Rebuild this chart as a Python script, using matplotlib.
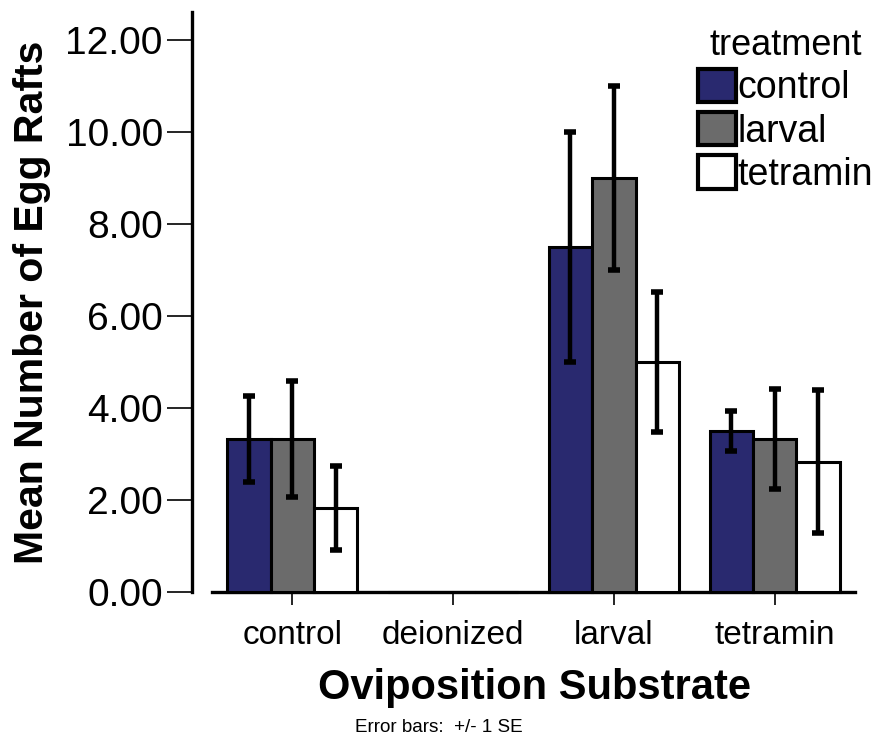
import matplotlib
matplotlib.use("Agg")
import matplotlib.pyplot as plt
import numpy as np

plt.rcParams['font.family'] = ['Liberation Sans', 'DejaVu Sans']

substrates = ["control", "deionized", "larval", "tetramin"]
treatments = ["control", "larval", "tetramin"]

# mean egg rafts per substrate, one list per treatment
means = {
    "control":  [3.33, 0.0, 7.50, 3.50],
    "larval":   [3.33, 0.0, 9.00, 3.33],
    "tetramin": [1.83, 0.0, 5.00, 2.83],
}
# +/- 1 standard error
errors = {
    "control":  [0.93, 0.0, 2.50, 0.43],
    "larval":   [1.26, 0.0, 2.00, 1.09],
    "tetramin": [0.91, 0.0, 1.52, 1.55],
}
colors = {"control": "#29296f", "larval": "#6b6b6b", "tetramin": "#ffffff"}

yticks = [0, 2, 4, 6, 8, 10, 12]

W, H = 877, 743
fig = plt.figure(figsize=(W / 100, H / 100), dpi=100)
ax = fig.add_axes([212 / W, 1 - 592 / H, (855 - 212) / W, (592 - 12) / H])

x = np.arange(len(substrates))
width = 0.27
for i, t in enumerate(treatments):
    pos = x + (i - 1) * width
    ax.bar(pos, means[t], width, color=colors[t], edgecolor="black",
           linewidth=2.2, label=t, zorder=3, clip_on=False)
    m = np.array(means[t])
    e = np.array(errors[t])
    keep = e > 0
    ax.errorbar(pos[keep], m[keep], yerr=e[keep], fmt="none", ecolor="black",
                elinewidth=3.2, capsize=4.5, capthick=4.0, zorder=4)

ax.set_xlim(-0.5, 3.5)
ax.set_ylim(0, 12.6)

for side in ["top", "right"]:
    ax.spines[side].set_visible(False)
ax.spines["left"].set_position(("outward", 14.4))
ax.spines["left"].set_linewidth(2.4)
ax.spines["bottom"].set_linewidth(2.4)
ax.spines["bottom"].set_zorder(1)

ax.set_yticks(yticks)
ax.set_yticklabels(["%.2f" % v for v in yticks])
ax.set_xticks(x)
ax.set_xticklabels(substrates)
ax.tick_params(axis="y", length=18, width=1.2, pad=3, labelsize=28)
ax.tick_params(axis="x", length=9, width=1.2, pad=11, labelsize=24)

fig.text(32 / W, 1 - 302 / H, "Mean Number of Egg Rafts", rotation=90,
         ha="center", va="center", fontsize=29.5, fontweight="bold")
fig.text(535 / W, 1 - 688 / H, "Oviposition Substrate",
         ha="center", va="center", fontsize=30, fontweight="bold")
fig.text(355 / W, 1 - 728 / H, "Error bars:  +/- 1 SE",
         ha="left", va="center", fontsize=13.6)

leg = ax.legend(title="treatment", loc="upper left",
                bbox_to_anchor=(698 / W, 1 - 28 / H), bbox_transform=fig.transFigure,
                frameon=False, fontsize=27, title_fontsize=26,
                handlelength=1.0, handleheight=1.0, handletextpad=0.05,
                labelspacing=0.15, borderpad=0, borderaxespad=0)
for h in leg.legend_handles:
    h.set_linewidth(3.0)

fig.savefig("out.png", dpi=100)
